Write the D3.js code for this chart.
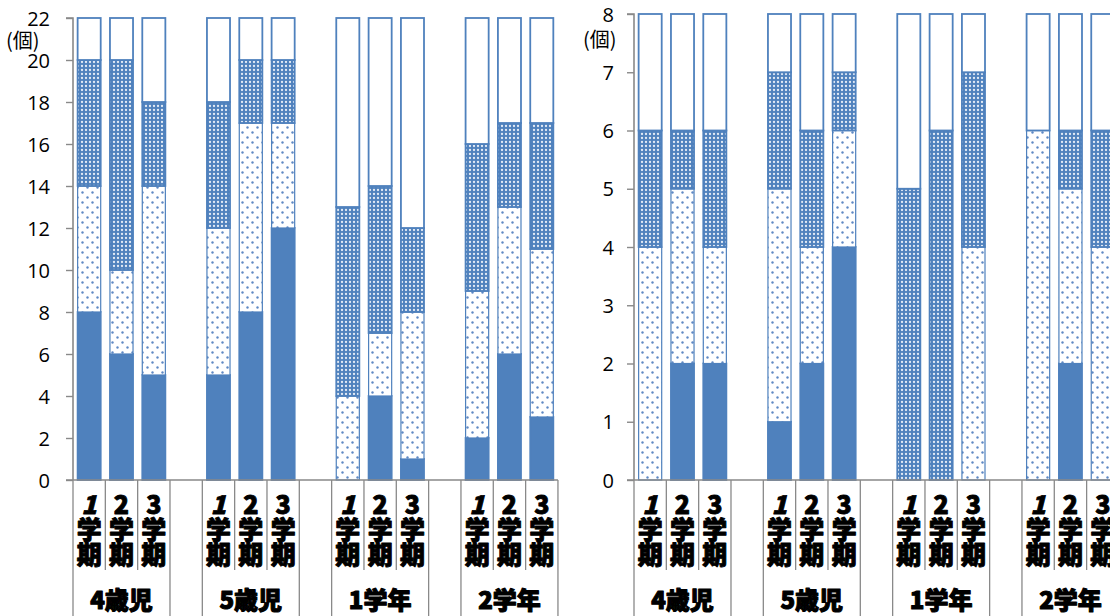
<!DOCTYPE html>
<html>
<head>
<meta charset="utf-8">
<script src="https://cdn.jsdelivr.net/npm/d3@7"></script>
<style>
  html, body { margin: 0; padding: 0; background: #fff; }
  svg { display: block; }
  .vlabel { writing-mode: vertical-rl; text-orientation: upright; }
</style>
</head>
<body>
<svg id="chart" width="1110" height="616"></svg>
<script>
// ---- data ----
const groups = ["4歳児", "5歳児", "1学年", "2学年"];
const terms = ["1", "2", "3"];           // 学期
const termSuffix = "学期";
const seriesKeys = ["solid", "light", "dense", "rest"];

// left panel (max 22)
const leftSolid = [8, 6, 5, 5, 8, 12, 0, 4, 1, 2, 6, 3];
const leftLight = [6, 4, 9, 7, 9, 5, 4, 3, 7, 7, 7, 8];
const leftDense = [6, 10, 4, 6, 3, 3, 9, 7, 4, 7, 4, 6];
const leftRest  = [2, 2, 4, 4, 2, 2, 9, 8, 10, 6, 5, 5];
const leftTicks = [0, 2, 4, 6, 8, 10, 12, 14, 16, 18, 20, 22];

// right panel (max 8)
const rightSolid = [0, 2, 2, 1, 2, 4, 0, 0, 0, 0, 2, 0];
const rightLight = [4, 3, 2, 4, 2, 2, 0, 0, 4, 6, 3, 4];
const rightDense = [2, 1, 2, 2, 2, 1, 5, 6, 3, 0, 1, 2];
const rightRest  = [2, 2, 2, 1, 2, 1, 3, 2, 1, 2, 2, 2];
const rightTicks = [0, 1, 2, 3, 4, 5, 6, 7, 8];

const unitLabel = "(個)";

// ---- styles ----
const BLUE = "#4F81BD";
const AXIS = "#898989";
const NUMFONT = "'Open Sans', 'Noto Sans', sans-serif";
const JPFONT = "'Noto Sans CJK JP', 'Noto Sans', sans-serif";

const svg = d3.select("#chart");
const defs = svg.append("defs");

// sparse dots on white
const pLight = defs.append("pattern").attr("id", "pat-light")
  .attr("patternUnits", "userSpaceOnUse").attr("width", 10).attr("height", 10);
pLight.append("rect").attr("width", 10).attr("height", 10).attr("fill", "#fff");
pLight.append("circle").attr("cx", 2.5).attr("cy", 2.5).attr("r", 1.2).attr("fill", "#5f89c4");
pLight.append("circle").attr("cx", 7.5).attr("cy", 7.5).attr("r", 1.2).attr("fill", "#5f89c4");

// dense light dots on blue
const pDense = defs.append("pattern").attr("id", "pat-dense")
  .attr("patternUnits", "userSpaceOnUse").attr("width", 4).attr("height", 4);
pDense.append("rect").attr("width", 4).attr("height", 4).attr("fill", BLUE);
pDense.append("circle").attr("cx", 2).attr("cy", 2).attr("r", 1.15).attr("fill", "#e3ebf6");

const fills = { solid: BLUE, light: "url(#pat-light)", dense: "url(#pat-dense)", rest: "#fff" };

// category slots: 3 terms per group, one blank slot between groups
const slots = [];
groups.forEach((g, gi) => {
  terms.forEach(t => slots.push({ key: g + "-" + t, group: g, term: t, blank: false }));
  if (gi < groups.length - 1) slots.push({ key: "blank" + gi, blank: true });
});

function heavy(sel, w) {
  return sel.attr("font-family", JPFONT).attr("font-weight", 900)
    .attr("fill", "#000").attr("stroke", "#000").attr("stroke-width", w)
    .attr("stroke-linejoin", "round");
}

function drawPanel(opt) {
  const { x0, yTop, yBottom, max, ticks, solid, light, dense, rest, labelX, unitX, unitY } = opt;
  const step = 32.33;
  const x = d3.scaleBand().domain(slots.map(s => s.key))
    .range([x0, x0 + step * slots.length]).paddingInner(0.24).paddingOuter(0.12);
  const y = d3.scaleLinear().domain([0, max]).range([yBottom, yTop]);

  const rows = [];
  let i = 0;
  slots.forEach(s => {
    if (s.blank) return;
    rows.push({ key: s.key, solid: solid[i], light: light[i], dense: dense[i], rest: rest[i] });
    i++;
  });
  const stacked = d3.stack().keys(seriesKeys)(rows);

  const g = svg.append("g");
  stacked.forEach(layer => {
    g.append("g").selectAll("rect").data(layer.filter(d => d[1] > d[0])).join("rect")
      .attr("x", d => x(d.data.key) + 0.75)
      .attr("width", x.bandwidth() - 1.5)
      .attr("y", d => y(d[1]))
      .attr("height", d => y(d[0]) - y(d[1]))
      .attr("fill", fills[layer.key])
      .attr("stroke", BLUE)
      .attr("stroke-width", layer.key === "light" ? 1.2 : 1.8);
  });

  // y axis
  const yAxis = d3.axisLeft(y).tickValues(ticks).tickSize(7).tickPadding(0).tickFormat(d3.format("d"));
  const ya = g.append("g").attr("transform", `translate(${x0},0)`).call(yAxis);
  ya.select(".domain").attr("stroke", AXIS).attr("stroke-width", 1.6);
  ya.selectAll(".tick line").attr("stroke", AXIS).attr("stroke-width", 1.4);
  ya.selectAll(".tick text")
    .attr("x", labelX - x0)
    .attr("dy", "0.36em")
    .attr("font-family", NUMFONT).attr("font-size", 20).attr("fill", "#000");
  ya.select(".domain").attr("d", `M-7,${yTop}H0V${yBottom}`);

  g.append("text").attr("x", unitX).attr("y", unitY).attr("dy", "0.35em")
    .attr("font-family", JPFONT).attr("font-size", 20).attr("fill", "#000")
    .text(unitLabel);

  // x axis line and category separators
  const xEnd = x0 + step * slots.length;
  g.append("line").attr("x1", x0 - 7).attr("x2", xEnd).attr("y1", yBottom).attr("y2", yBottom)
    .attr("stroke", AXIS).attr("stroke-width", 1.6);
  const bounds = d3.range(slots.length + 1);
  g.append("g").selectAll("line").data(bounds).join("line")
    .attr("x1", k => x0 + k * step).attr("x2", k => x0 + k * step)
    .attr("y1", yBottom)
    .attr("y2", k => {
      const full = k === 0 || k === slots.length || slots[k - 1].blank || slots[k].blank;
      return full ? 616 : 570;
    })
    .attr("stroke", AXIS).attr("stroke-width", 1.3);

  // term labels, set vertically
  const tl = g.append("g").selectAll("text").data(slots.filter(s => !s.blank)).join("text")
    .attr("class", "vlabel")
    .attr("x", s => x(s.key) + x.bandwidth() / 2)
    .attr("y", 492)
    .attr("font-size", 25);
  heavy(tl, 0.9);
  tl.append("tspan").attr("font-style", s => s.term === "1" ? "italic" : "normal").text(s => s.term);
  tl.append("tspan").text(termSuffix);

  // group labels
  const gl = g.append("g").selectAll("text").data(groups).join("text")
    .attr("x", gname => x(gname + "-2") + x.bandwidth() / 2)
    .attr("y", 600).attr("dy", "0.36em")
    .attr("text-anchor", "middle")
    .attr("font-size", 24)
    .text(gname => gname);
  heavy(gl, 1.1);
}

drawPanel({ x0: 73, yTop: 18, yBottom: 480, max: 22, ticks: leftTicks,
  solid: leftSolid, light: leftLight, dense: leftDense, rest: leftRest,
  labelX: 50, unitX: 6, unitY: 41 });

drawPanel({ x0: 634, yTop: 14, yBottom: 480, max: 8, ticks: rightTicks,
  solid: rightSolid, light: rightLight, dense: rightDense, rest: rightRest,
  labelX: 614, unitX: 583, unitY: 40 });
</script>
</body>
</html>
